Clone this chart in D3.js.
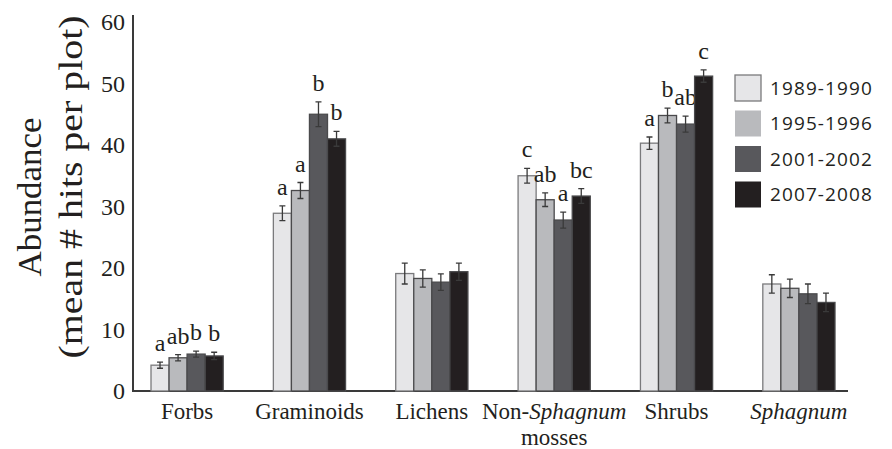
<!DOCTYPE html>
<html>
<head>
<meta charset="utf-8">
<script src="https://cdn.jsdelivr.net/npm/d3@7"></script>
<style>
  body { margin: 0; background: #fff; }
  svg text { fill: #231f20; }
</style>
</head>
<body>
<div id="chart"></div>
<script>
// data
var categories = ["Forbs", "Graminoids", "Lichens", "Non-Sphagnum", "Shrubs", "Sphagnum"];
var periods = ["1989-1990", "1995-1996", "2001-2002", "2007-2008"];
var means = [
    [4.2, 5.4, 6.0, 5.7],
    [28.9, 32.6, 45.0, 41.0],
    [19.1, 18.3, 17.7, 19.4],
    [35.0, 31.1, 27.8, 31.7],
    [40.3, 44.8, 43.4, 51.2],
    [17.4, 16.7, 15.8, 14.4]
];
var errors = [
    [0.5, 0.5, 0.5, 0.6],
    [1.2, 1.3, 2.0, 1.2],
    [1.7, 1.4, 1.35, 1.4],
    [1.2, 1.1, 1.3, 1.2],
    [1.0, 1.2, 1.3, 1.0],
    [1.5, 1.5, 1.6, 1.5]
];
var letters = [
    ["a", "ab", "b", "b"],
    ["a", "a", "b", "b"],
    ["", "", "", ""],
    ["c", "ab", "a", "bc"],
    ["a", "b", "ab", "c"],
    ["", "", "", ""]
];
var yTicks = [0, 10, 20, 30, 40, 50, 60];
var colors = ["#e6e6e8", "#b9babd", "#58585c", "#231f20"];

var width = 892, height = 449;
var svg = d3.select("#chart").append("svg")
    .attr("width", width)
    .attr("height", height);

var y = d3.scaleLinear().domain([0, 60]).range([391, 22]);

var x0 = d3.scaleBand()
    .domain(categories)
    .range([151, 835])
    .paddingInner(0.41)
    .paddingOuter(0);

var x1 = d3.scaleBand()
    .domain(periods)
    .range([0, x0.bandwidth()]);

// y axis line
svg.append("line")
    .attr("x1", 133).attr("x2", 133)
    .attr("y1", 15).attr("y2", y(0))
    .attr("stroke", "#3a3a3a").attr("stroke-width", 2);

// x axis line
svg.append("line")
    .attr("x1", 132).attr("x2", 848)
    .attr("y1", y(0)).attr("y2", y(0))
    .attr("stroke", "#3a3a3a").attr("stroke-width", 2);

// tick labels
svg.selectAll(".ytick").data(yTicks)
    .enter().append("text")
    .attr("class", "ytick")
    .attr("x", 125)
    .attr("y", d => y(d))
    .attr("dy", "0.35em")
    .attr("text-anchor", "end")
    .style("font-family", "Liberation Serif, serif")
    .style("font-size", "24px")
    .text(d => d);

// y axis title
svg.append("text")
    .attr("transform", "translate(29,197) rotate(-90)")
    .attr("text-anchor", "middle")
    .attr("dy", "0.35em")
    .attr("textLength", 159)
    .attr("lengthAdjust", "spacingAndGlyphs")
    .style("font-family", "Liberation Serif, serif")
    .style("font-size", "33px")
    .text("Abundance");
svg.append("text")
    .attr("transform", "translate(70,187) rotate(-90)")
    .attr("text-anchor", "middle")
    .attr("dy", "0.35em")
    .attr("textLength", 343)
    .attr("lengthAdjust", "spacingAndGlyphs")
    .style("font-family", "Liberation Serif, serif")
    .style("font-size", "33px")
    .text("(mean # hits per plot)");

// bar groups
var groups = svg.selectAll(".grp").data(categories)
    .enter().append("g")
    .attr("class", "grp")
    .attr("transform", d => "translate(" + x0(d) + ",0)");

var cells = groups.selectAll(".cell")
    .data((d, i) => periods.map((p, j) => ({ p: p, j: j, v: means[i][j], e: errors[i][j], l: letters[i][j] })))
    .enter().append("g")
    .attr("class", "cell");

cells.append("rect")
    .attr("x", d => x1(d.p))
    .attr("y", d => y(d.v))
    .attr("width", x1.bandwidth())
    .attr("height", d => y(0) - y(d.v))
    .attr("fill", d => colors[d.j])
    .attr("stroke", d => d.j === 0 ? "#7a7a7c" : "#4a4a4c")
    .attr("stroke-width", 1.3);

// error bars
var cap = 3;
cells.append("path")
    .attr("d", function (d) {
        var cx = x1(d.p) + x1.bandwidth() / 2;
        var t = y(d.v + d.e), b = y(d.v - d.e);
        return "M" + (cx - cap) + "," + t + "H" + (cx + cap) +
            "M" + cx + "," + t + "V" + b +
            "M" + (cx - cap) + "," + b + "H" + (cx + cap);
    })
    .attr("fill", "none")
    .attr("stroke", "#3a3a3a")
    .attr("stroke-width", 1.3);

// significance letters
cells.append("text")
    .attr("x", d => x1(d.p) + x1.bandwidth() / 2)
    .attr("y", d => y(d.v + d.e) - 11)
    .attr("text-anchor", "middle")
    .style("font-family", "Liberation Serif, serif")
    .style("font-size", "24px")
    .text(d => d.l);

// category labels
var xl = svg.selectAll(".xlab").data(categories)
    .enter().append("text")
    .attr("class", "xlab")
    .attr("x", d => x0(d) + x0.bandwidth() / 2)
    .attr("y", 419)
    .attr("text-anchor", "middle")
    .style("font-family", "Liberation Serif, serif")
    .style("font-size", "23px");

xl.each(function (d) {
    var t = d3.select(this);
    if (d === "Non-Sphagnum") {
        t.append("tspan").text("Non-");
        t.append("tspan").style("font-style", "italic").text("Sphagnum");
    } else if (d === "Sphagnum") {
        t.append("tspan").style("font-style", "italic").text("Sphagnum");
    } else {
        t.text(d);
    }
});

svg.append("text")
    .attr("x", x0("Non-Sphagnum") + x0.bandwidth() / 2)
    .attr("y", 445)
    .attr("text-anchor", "middle")
    .style("font-family", "Liberation Serif, serif")
    .style("font-size", "23px")
    .text("mosses");

// legend
var legend = svg.selectAll(".leg").data(periods)
    .enter().append("g")
    .attr("class", "leg")
    .attr("transform", (d, i) => "translate(735," + (75 + i * 35.5) + ")");

legend.append("rect")
    .attr("width", 26).attr("height", 26)
    .attr("fill", (d, i) => colors[i])
    .attr("stroke", (d, i) => i === 0 ? "#7a7a7c" : "none")
    .attr("stroke-width", 1.3);

legend.append("text")
    .attr("x", 35)
    .attr("y", 13)
    .attr("dy", "0.35em")
    .style("font-family", "Open Sans, sans-serif")
    .style("font-size", "19px")
    .style("letter-spacing", "1.1px")
    .text(d => d);
</script>
</body>
</html>
